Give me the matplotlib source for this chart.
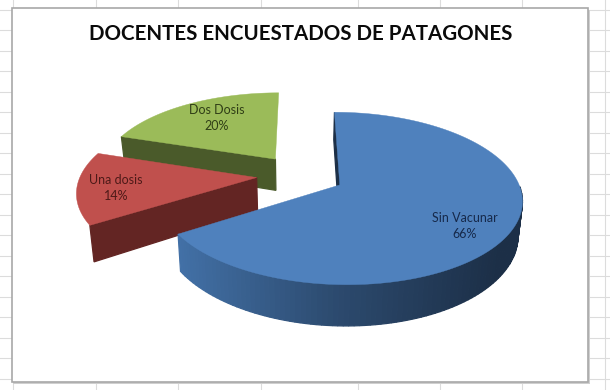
import numpy as np
import matplotlib
matplotlib.use("Agg")
import matplotlib.pyplot as plt
from matplotlib.patches import Rectangle

# Data
categories = ["Sin Vacunar", "Una dosis", "Dos Dosis"]
percents = [66, 14, 20]
title = "DOCENTES ENCUESTADOS DE PATAGONES"

top_colors = ["#4f81bd", "#c0504d", "#9bbb59"]
side_colors = ["#1c2f47", "#632523", "#4a5a2a"]
text_colors = ["#16294a", "#4d1a18", "#2f3d16"]
label_pos = [(465, 218), (116, 180), (217, 110)]

# Projection of the 3D pie, in pixels
CX, CY = 300.5, 175
RX, RY = 176, 81
PERSP = 0.154
EXPLODE = 0.25
DEPTH = 32.5
BOTTOM_SX, BOTTOM_SY = 0.98, 1.08


def project(x, z):
    f = 1 / (1 + PERSP * z)
    return CX + RX * x * f, CY - RY * z * f


def bottom(px, py):
    return CX + (px - CX) * BOTTOM_SX, CY + DEPTH + (py - CY) * BOTTOM_SY


def quad(ax, x0, y0, x1, y1, color, z):
    xb0, yb0 = bottom(x0, y0)
    xb1, yb1 = bottom(x1, y1)
    ax.fill([x0, x1, xb1, xb0], [y0, y1, yb1, yb0], color=color, lw=0.9, zorder=z)


plt.rcParams["font.family"] = ["Lato", "DejaVu Sans"]
fig = plt.figure(figsize=(6.1, 3.9), dpi=100)
ax = fig.add_axes([0, 0, 1, 1])
ax.set_xlim(0, 610)
ax.set_ylim(390, 0)
ax.axis("off")

# Worksheet behind the chart
for y in np.arange(9.5, 390, 20.5):
    ax.axhline(y, color="#dcdcdc", lw=0.8, zorder=1)
for x in [13, 96, 178, 261, 358, 440, 522, 605]:
    ax.axvline(x, color="#dcdcdc", lw=0.8, zorder=1)
ax.add_patch(Rectangle((13, 10), 577, 374, fc="#cfcfcf", ec="none", zorder=2))
ax.add_patch(Rectangle((12, 8), 576, 374, fc="white", ec="#a8a8a8", lw=1.2, zorder=2))

# Slices clockwise from the top, drawn back to front
fractions = np.array(percents) / sum(percents)
ends = np.cumsum(fractions) * 2 * np.pi
starts = ends - fractions * 2 * np.pi
for i in [2, 1, 0]:
    mid = (starts[i] + ends[i]) / 2
    ox, oz = EXPLODE * np.sin(mid), EXPLODE * np.cos(mid)
    theta = np.linspace(starts[i], ends[i], 160)
    px, py = project(ox + np.sin(theta), oz + np.cos(theta))
    ax_, ay_ = project(ox, oz)
    z = 10 + (2 - i) * 3

    # outer wall, only the front of the big slice shows one
    if i == 0:
        for j in range(len(theta) - 1):
            if theta[j] < np.pi / 2:
                continue
            t = np.clip((px[j] - 180) / 320, 0, 1)
            color = np.interp(t, [0, 0.5, 1], [0x42, 0x2c, 0x1c]) / 255, \
                np.interp(t, [0, 0.5, 1], [0x70, 0x4a, 0x2f]) / 255, \
                np.interp(t, [0, 0.5, 1], [0xa6, 0x6e, 0x47]) / 255
            quad(ax, px[j], py[j], px[j + 1], py[j + 1], color, z)

    # cut wall at the start of the slice
    quad(ax, ax_, ay_, px[0], py[0], side_colors[i], z)

    # top face
    ax.fill(np.r_[ax_, px], np.r_[ay_, py], color=top_colors[i], lw=0.3, zorder=z + 1)

for name, pct, (lx, ly), color in zip(categories, percents, label_pos, text_colors):
    ax.text(lx, ly, name, ha="center", va="center", fontsize=9, color=color, zorder=30)
    ax.text(lx, ly + 16, f"{pct}%", ha="center", va="center", fontsize=9, color=color, zorder=30)

ax.text(300.5, 33.5, title, ha="center", va="center", fontsize=14.8, fontweight="bold",
        color="#0a0a0a", zorder=30)

fig.savefig("out.png", dpi=100)
